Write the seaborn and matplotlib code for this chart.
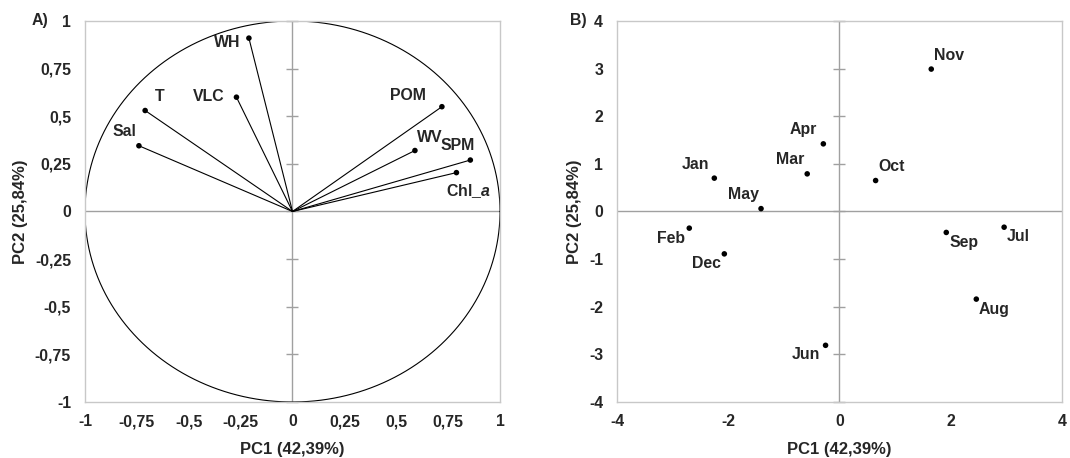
import matplotlib
matplotlib.use("Agg")
import matplotlib.pyplot as plt
import seaborn as sns
import pandas as pd
import numpy as np

# loadings (panel A)
variables = ['WH', 'T', 'VLC', 'Sal', 'POM', 'WV', 'SPM', 'Chl_a']
pc1_load = [-0.21, -0.71, -0.27, -0.74, 0.72, 0.59, 0.857, 0.79]
pc2_load = [0.91, 0.53, 0.60, 0.345, 0.55, 0.32, 0.27, 0.204]

# scores (panel B)
months = ['Nov', 'Apr', 'Mar', 'Jan', 'May', 'Oct', 'Feb', 'Dec', 'Jun', 'Sep', 'Jul', 'Aug']
pc1_score = [1.65, -0.29, -0.58, -2.25, -1.41, 0.65, -2.70, -2.07, -0.25, 1.92, 2.96, 2.46]
pc2_score = [2.99, 1.42, 0.79, 0.70, 0.06, 0.65, -0.35, -0.89, -2.81, -0.44, -0.33, -1.84]

ticks_a = [-1, -0.75, -0.5, -0.25, 0, 0.25, 0.5, 0.75, 1]
tick_labels_a = ['-1', '-0,75', '-0,5', '-0,25', '0', '0,25', '0,5', '0,75', '1']
ticks_b = [-4, -3, -2, -1, 0, 1, 2, 3, 4]
xticks_b = [-4, -2, 0, 2, 4]

xlabel = 'PC1 (42,39%)'
ylabel = 'PC2 (25,84%)'

sns.set_style('white')
plt.rcParams['font.family'] = ['Liberation Sans', 'DejaVu Sans']
plt.rcParams['font.weight'] = 'bold'
plt.rcParams['mathtext.fontset'] = 'custom'
plt.rcParams['mathtext.it'] = 'Liberation Sans:bold:italic'

FS = 11.4

# label offsets in pixels (dx, dy, ha)
offs_a = {'WH': (-8, -4, 'right'), 'T': (15, 14, 'center'), 'VLC': (-12, 1, 'right'),
          'Sal': (-3, 14, 'right'), 'POM': (-16, 11, 'right'), 'WV': (2, 13, 'left'),
          'SPM': (-13, 15, 'center'), 'Chl_a': (-10, -18, 'left')}
offs_b = {'Nov': (3, 14, 'left'), 'Apr': (-6, 14, 'right'), 'Mar': (-3, 14, 'right'),
          'Jan': (-5, 14, 'right'), 'May': (-2, 14, 'right'), 'Oct': (3, 14, 'left'),
          'Feb': (-4, -10, 'right'), 'Dec': (-3, -10, 'right'), 'Jun': (-5, -9, 'right'),
          'Sep': (3, -10, 'left'), 'Jul': (3, -9, 'left'), 'Aug': (2, -10, 'left')}

fig = plt.figure(figsize=(10.7, 4.58), dpi=100)
ax1 = fig.add_axes([0.0794, 0.1223, 0.3879, 0.8319])
ax2 = fig.add_axes([0.5766, 0.1223, 0.4159, 0.8319])

frame_col = '#c8c8c8'
zero_col = '#a0a0a0'


def style_axes(ax, lim, yticks, ylabels, xticks, xlabels):
    ax.set_xlim(-lim, lim)
    ax.set_ylim(-lim, lim)
    ax.axhline(0, color=zero_col, lw=1, zorder=1)
    ax.axvline(0, color=zero_col, lw=1, zorder=1)
    ax.plot([0] * len(yticks), yticks, ls='none', marker='_', ms=9,
            mew=1, color=zero_col, zorder=1, clip_on=False)
    ax.set_yticks(yticks)
    ax.set_yticklabels(ylabels)
    ax.set_xticks(xticks)
    ax.set_xticklabels(xlabels)
    ax.tick_params(axis='y', length=0, labelsize=FS, pad=10)
    ax.tick_params(axis='x', length=0, labelsize=FS, pad=9)
    for lab in ax.get_xticklabels() + ax.get_yticklabels():
        lab.set_fontweight('bold')
    for s in ax.spines.values():
        s.set_color(frame_col)
        s.set_linewidth(1)
    ax.set_xlabel(xlabel, fontsize=12, fontweight='bold', labelpad=9)
    ax.set_ylabel(ylabel, fontsize=12, fontweight='bold', labelpad=5)


# panel A
style_axes(ax1, 1, ticks_a, tick_labels_a, ticks_a, tick_labels_a)
theta = np.linspace(0, 2 * np.pi, 400)
ax1.plot(np.cos(theta), np.sin(theta), color='black', lw=0.8, zorder=2)
for x, y in zip(pc1_load, pc2_load):
    ax1.plot([0, x], [0, y], color='black', lw=0.8, zorder=2)
load_df = pd.DataFrame({'pc1': pc1_load, 'pc2': pc2_load, 'var': variables})
sns.scatterplot(data=load_df, x='pc1', y='pc2', ax=ax1, color='black', s=16,
                edgecolor='none', zorder=3, legend=False)
for name, x, y in zip(variables, pc1_load, pc2_load):
    dx, dy, ha = offs_a[name]
    txt = r'Chl_$\mathit{a}$' if name == 'Chl_a' else name
    ax1.annotate(txt, (x, y), xytext=(dx, dy), textcoords='offset pixels',
                 ha=ha, va='center', fontsize=FS, fontweight='bold')

# panel B
style_axes(ax2, 4, ticks_b, [str(t) for t in ticks_b], xticks_b, [str(t) for t in xticks_b])
score_df = pd.DataFrame({'pc1': pc1_score, 'pc2': pc2_score, 'month': months})
sns.scatterplot(data=score_df, x='pc1', y='pc2', ax=ax2, color='black', s=16,
                edgecolor='none', zorder=3, legend=False)
for name, x, y in zip(months, pc1_score, pc2_score):
    dx, dy, ha = offs_b[name]
    ax2.annotate(name, (x, y), xytext=(dx, dy), textcoords='offset pixels',
                 ha=ha, va='center', fontsize=FS, fontweight='bold')

fig.text(40 / 1070, 1 - 20 / 458, 'A)', ha='center', va='center', fontsize=FS, fontweight='bold')
fig.text(578 / 1070, 1 - 20 / 458, 'B)', ha='center', va='center', fontsize=FS, fontweight='bold')

fig.savefig('out.png', dpi=100)
